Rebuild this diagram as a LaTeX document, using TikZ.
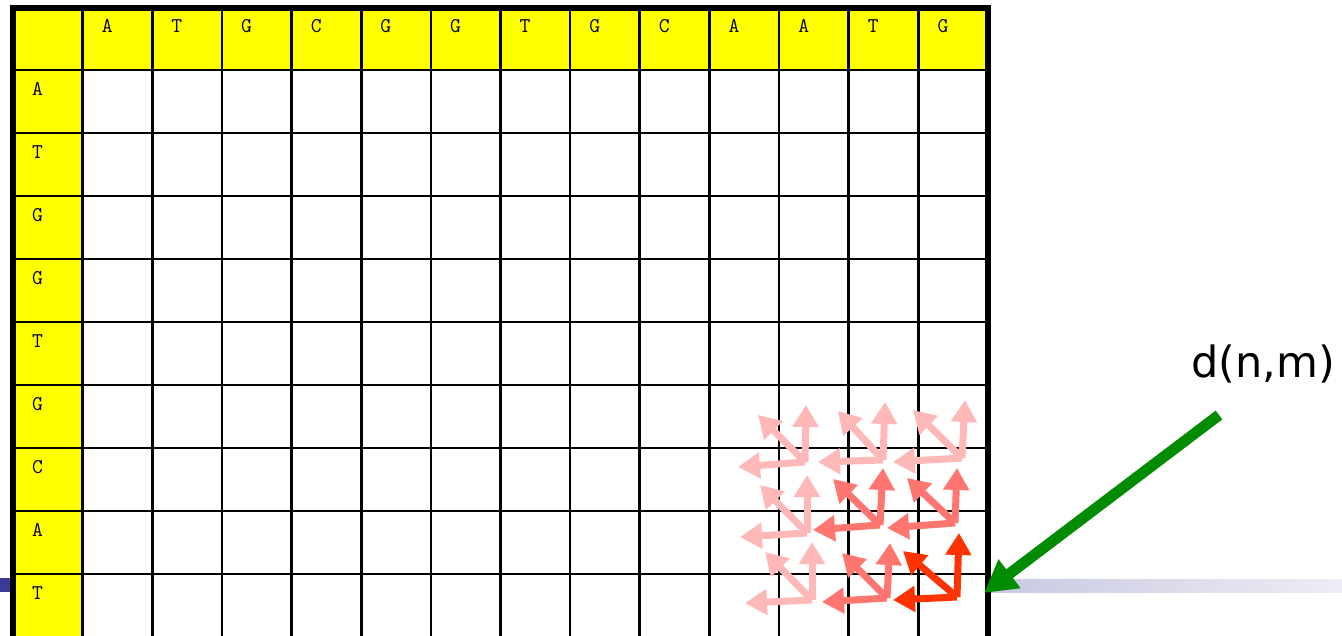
\documentclass[tikz,border=0pt]{standalone}
\usepackage{fontspec}
\setmainfont{DejaVu Sans}
\usetikzlibrary{arrows.meta}
\definecolor{barblue}{RGB}{59,59,150}
\definecolor{barl}{RGB}{200,200,225}
\definecolor{barr}{RGB}{237,237,245}
\definecolor{cellyellow}{RGB}{255,255,0}
\definecolor{pinkA}{RGB}{255,184,184}
\definecolor{pinkB}{RGB}{255,118,112}
\definecolor{pinkC}{RGB}{255,51,0}
\definecolor{arrowgreen}{RGB}{0,140,0}
\tikzset{
  gridline/.style={line width=2.6pt, black},
  borderline/.style={line width=5.5pt, black, line cap=rect},
  cellchar/.style={font=\ttfamily\fontsize{21}{21}\selectfont, inner sep=0pt, anchor=west},
  arrw/.style={line width=7pt, -{Triangle[length=22pt,width=25pt]}},
  lightarrow/.style={arrw, pinkA},
  midarrow/.style={arrw, pinkB},
  redarrow/.style={arrw, pinkC},
  greenarrow/.style={line width=11pt, arrowgreen, -{Triangle[length=32pt,width=34pt]}},
  labeltext/.style={font=\fontsize{43}{43}\selectfont, inner sep=0pt, anchor=base west}
}
\begin{document}
\begin{tikzpicture}[x=1pt,y=-1pt]
\useasboundingbox (0,0) rectangle (1342,635);
\clip (0,0) rectangle (1342,635);
% slide bar behind the table
\fill[barblue] (0,578) rectangle (13,592);
\shade[left color=barl, right color=barr] (988,579) rectangle (1342,592);
\fill[white] (16,10) rectangle (985,640);
% yellow header row and column
\fill[cellyellow] (13,8) rectangle (988,70);
\fill[cellyellow] (13,70) rectangle (82,640);
% grid
\foreach \i in {1,...,13} \draw[gridline] ({13+975*\i/14},8) -- ({13+975*\i/14},640);
\foreach \j in {1,...,9} \draw[gridline] (13,{70+63*(\j-1)}) -- (988,{70+63*(\j-1)});
\draw[borderline] (13,645) -- (13,8) -- (988,8) -- (988,645);
% labels
\foreach \c [count=\i] in {A,T,G,C,G,G,T,G,C,A,A,T,G}
  \node[cellchar] (h\i) at ({13+975*\i/14+19},26) {\c};
\foreach \c [count=\j] in {A,T,G,G,T,G,C,A,T}
  \node[cellchar] (r\j) at (32,{70+63*(\j-1)+19}) {\c};
% arrow clusters: origin, up tip, left tip, diagonal tip
\foreach \n/\ox/\oy/\ux/\uy/\lx/\ly/\dx/\dy in {
  A/805/462/806/405/738/467/758/415,
  B/883/460/885/402/818/462/838/411,
  C/962/458/965/400/893/462/913/410,
  D/807/533/807/475/740/537/760/485,
  G/812/600/812/542/745/603/765/552,
  E/880/525/883/468/813/530/833/479,
  F/955/523/957/468/887/528/907/478,
  H/887/598/890/543/822/602/842/553,
  I/957/597/959/533/893/600/903/551}{
  \coordinate (o\n) at (\ox,\oy);
  \coordinate (u\n) at (\ux,\uy);
  \coordinate (l\n) at (\lx,\ly);
  \coordinate (d\n) at (\dx,\dy);
}
\foreach \n in {A,B,C,D,G}{
  \draw[lightarrow] (o\n) -- (u\n);
  \draw[lightarrow] (o\n) -- (d\n);
  \draw[lightarrow] (o\n) -- (l\n);
}
\foreach \n in {E,F,H}{
  \draw[midarrow] (o\n) -- (u\n);
  \draw[midarrow] (o\n) -- (d\n);
  \draw[midarrow] (o\n) -- (l\n);
}
\draw[redarrow] (oI) -- (uI);
\draw[redarrow] (oI) -- (dI);
\draw[redarrow] (oI) -- (lI);
% d(n,m) label and pointer
\node[labeltext] (dlabel) at (1191,377) {d(n,m)};
\coordinate (gstart) at (1219,415);
\coordinate (gend) at (984,593);
\draw[greenarrow] (gstart) -- (gend);
\end{tikzpicture}
\end{document}
